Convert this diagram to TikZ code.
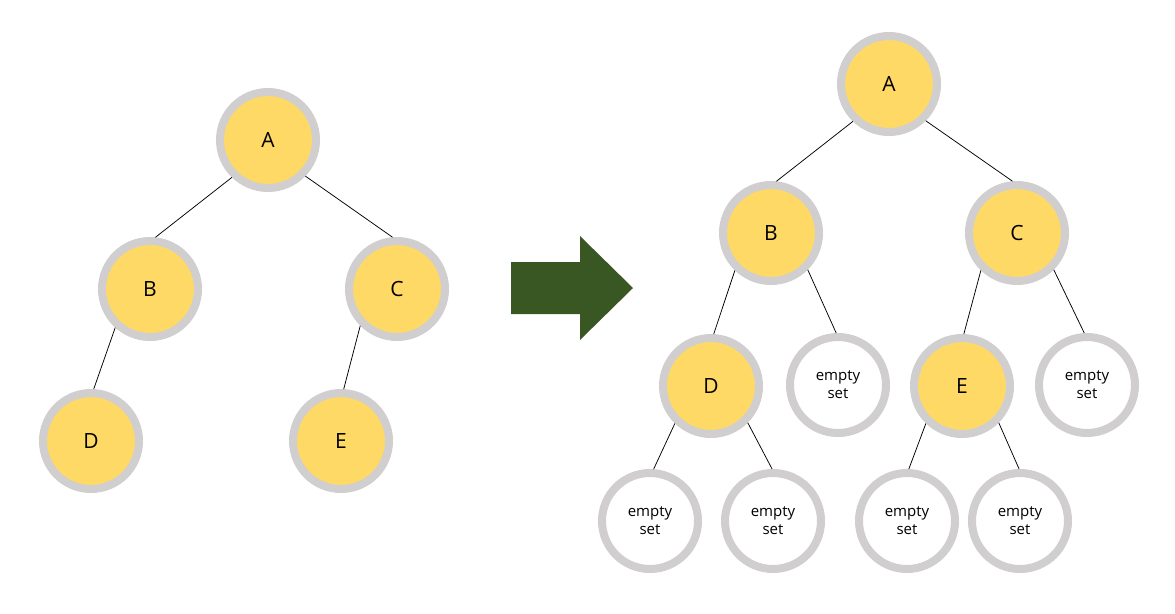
\documentclass[tikz,border=0pt]{standalone}
\usepackage{fontspec}
\setmainfont{Open Sans}
\definecolor{ringgray}{HTML}{D0CECE}
\definecolor{nodeyellow}{HTML}{FFD966}
\definecolor{arrowgreen}{HTML}{385723}
\begin{document}
\begin{tikzpicture}[x=1pt,y=-1pt,
  tnode/.style={circle,draw=ringgray,line width=8pt,fill=nodeyellow,minimum size=96pt,inner sep=0pt,font=\fontsize{21}{24}\selectfont},
  enode/.style={circle,draw=ringgray,line width=8pt,fill=white,minimum size=96pt,inner sep=0pt,align=center,font=\fontsize{15}{18}\selectfont},
  edge/.style={draw=black,line width=0.75pt}]
\useasboundingbox (0,0) rectangle (1175,613);
% left tree
\node[tnode] (lA) at (268,140) {A};
\node[tnode] (lB) at (150,289) {B};
\node[tnode] (lC) at (397,289) {C};
\node[tnode] (lD) at (91,441) {D};
\node[tnode] (lE) at (341,441) {E};
\draw[edge] (lA.226) -- (lB.84);
\draw[edge] (lA.316) -- (lC.95);
\draw[edge] (lB.228) -- (lD.87);
\draw[edge] (lC.225) -- (lE.87);
% arrow
\fill[arrowgreen] (511,262) -- (580,262) -- (580,236) -- (633,288) -- (580,340) -- (580,314) -- (511,314) -- cycle;
% right tree
\node[tnode] (rA) at (889,84) {A};
\node[tnode] (rB) at (771,233) {B};
\node[tnode] (rC) at (1017,233) {C};
\node[tnode] (rD) at (711,386) {D};
\node[enode] (rB2) at (838,385) {empty\\set};
\node[tnode] (rE) at (962,386) {E};
\node[enode] (rC2) at (1087,385) {empty\\set};
\node[enode] (rD1) at (650,521) {empty\\set};
\node[enode] (rD2) at (773,521) {empty\\set};
\node[enode] (rE1) at (907,521) {empty\\set};
\node[enode] (rE2) at (1020,521) {empty\\set};
\draw[edge] (rA.226) -- (rB.84);
\draw[edge] (rA.315) -- (rC.95);
\draw[edge] (rB.226) -- (rD.87);
\draw[edge] (rB.315) -- (rB2.92);
\draw[edge] (rC.226) -- (rE.88);
\draw[edge] (rC.315) -- (rC2.93);
\draw[edge] (rD.226) -- (rD1.86);
\draw[edge] (rD.315) -- (rD2.91);
\draw[edge] (rE.226) -- (rE1.88);
\draw[edge] (rE.315) -- (rE2.91);
\end{tikzpicture}
\end{document}
